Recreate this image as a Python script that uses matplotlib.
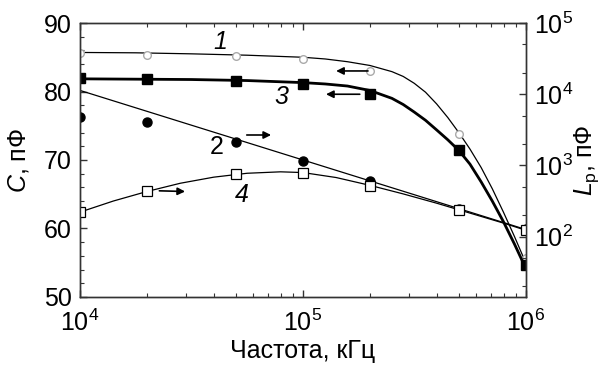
import numpy as np
import matplotlib
matplotlib.use('Agg')
import matplotlib.pyplot as plt
from matplotlib.ticker import MultipleLocator, LogLocator, NullFormatter

plt.rcParams['font.family'] = ['Liberation Sans', 'DejaVu Sans']
plt.rcParams['mathtext.fontset'] = 'custom'
plt.rcParams['mathtext.rm'] = 'Liberation Sans'
plt.rcParams['mathtext.it'] = 'Liberation Sans:italic'
plt.rcParams['font.size'] = 18

# measured points
freq = [1e4, 2e4, 5e4, 1e5, 2e5, 5e5, 1e6]
c1_pts = [85.6, 85.35, 85.2, 84.7, 83.0, 73.8, 55.7]      # curve 1, C (left)
c3_pts = [81.9, 81.8, 81.6, 81.1, 79.7, 71.5, 54.7]       # curve 3, C (left)
lp2_pts = [4850, 4130, 2160, 1150, 614, 244, 128]        # curve 2, Lp (right)
lp4_pts = [221, 431, 762, 780, 518, 233, 122]            # curve 4, Lp (right)

# fitted curves
fit_f = [1e4, 1.78e4, 3.16e4, 5.62e4, 1e5, 1.26e5, 1.585e5, 2.0e5, 2.51e5, 2.82e5,
         3.16e5, 3.55e5, 3.98e5, 4.47e5, 5.01e5, 5.62e5, 6.31e5, 7.08e5, 7.94e5, 8.91e5, 1e6]
fit1_c = [85.7, 85.65, 85.5, 85.3, 85.0, 84.75, 84.35, 83.8, 82.9, 82.2,
          81.2, 79.9, 78.2, 76.2, 74.0, 71.6, 68.9, 65.8, 62.4, 58.8, 55.0]
fit3_c = [81.85, 81.8, 81.75, 81.6, 81.3, 81.1, 80.8, 80.15, 79.0, 78.1,
          77.0, 75.8, 74.4, 72.95, 71.4, 69.4, 66.8, 64.0, 61.0, 57.7, 54.2]
fit2_f = [1e4, 1e6]
fit2_l = [11300, 126]
fit4_f = [1e4, 1.41e4, 2e4, 2.82e4, 3.98e4, 5.62e4, 7.94e4, 1e5, 1.41e5, 2e5,
          2.82e5, 3.98e5, 5.62e5, 7.94e5, 1e6]
fit4_l = [221, 316, 431, 562, 684, 776, 813, 794, 676, 525,
          398, 295, 214, 155, 123]

fig = plt.figure(figsize=(6.04, 3.73), dpi=100)
ax = fig.add_axes([0.1325, 0.2038, 0.7379, 0.7345])
ax2 = ax.twinx()

# left axis curves
ax.plot(fit_f, fit1_c, color='k', lw=0.9)
ax.plot(freq, c1_pts, 'o', ls='none', mfc='white', mec='#aaaaaa', ms=5.5, mew=1)
ax.plot(fit_f, fit3_c, color='k', lw=2)
ax.plot(freq, c3_pts, 's', ls='none', color='k', ms=7.5)

# right axis curves
ax2.plot(fit2_f, fit2_l, color='k', lw=0.9)
ax2.plot(freq, lp2_pts, 'o', ls='none', color='k', ms=6.5)
ax2.plot(fit4_f, fit4_l, color='k', lw=0.9)
ax2.plot(freq, lp4_pts, 's', ls='none', mfc='white', mec='k', ms=6.5, mew=0.9)

ax.set_xscale('log')
ax.set_xlim(1e4, 1e6)
ax.set_ylim(50, 90)
ax.yaxis.set_major_locator(MultipleLocator(10))
ax.yaxis.set_minor_locator(MultipleLocator(2))
ax.xaxis.set_minor_locator(LogLocator(base=10, subs=np.arange(2, 10)))
ax.xaxis.set_minor_formatter(NullFormatter())

ax2.set_yscale('log')
ax2.set_ylim(14.2, 1e5)
ax2.yaxis.set_major_locator(LogLocator(base=10, numticks=10))
ax2.yaxis.set_minor_locator(LogLocator(base=10, subs=(2, 5), numticks=10))
ax2.yaxis.set_minor_formatter(NullFormatter())

for a in (ax, ax2):
    for s in a.spines.values():
        s.set_color('#333333')
        s.set_linewidth(1)
ax.tick_params(which='both', direction='in', top=True, right=False, colors='#333333', labelcolor='k')
ax.tick_params(which='major', length=5, width=1, pad=6)
ax.tick_params(axis='x', which='major', pad=9)
ax.tick_params(which='minor', length=3, width=0.8)
ax2.tick_params(which='both', direction='in', colors='#333333', labelcolor='k')
ax2.tick_params(which='major', length=5, width=1, pad=6)
ax2.tick_params(which='minor', length=3, width=0.8)

ax.set_xlabel('Частота, кГц', labelpad=2)
ax.set_ylabel('$C$, пФ')
ax.yaxis.set_label_coords(-0.11, 0.5)
ax2.set_ylabel('$L_\\mathrm{p}$, пФ')
ax2.yaxis.set_label_coords(1.105, 0.5)

# curve numbers and arrows
ax.text(4.25e4, 87.2, '1', style='italic', ha='center', va='center')
ax.text(8.0e4, 79.2, '3', style='italic', ha='center', va='center')
ax.text(4.1e4, 71.9, '2', ha='center', va='center')
ax.text(5.3e4, 64.9, '4', style='italic', ha='center', va='center')

arrow = dict(arrowstyle='-|>', color='k', lw=1.2, mutation_scale=11, shrinkA=0, shrinkB=0)
ax.annotate('', xy=(1.41e5, 83.0), xytext=(1.96e5, 83.0), arrowprops=arrow)
ax.annotate('', xy=(1.27e5, 79.6), xytext=(1.80e5, 79.6), arrowprops=arrow)
ax.annotate('', xy=(7.2e4, 73.65), xytext=(5.6e4, 73.65), arrowprops=arrow)
ax.annotate('', xy=(2.96e4, 65.4), xytext=(2.27e4, 65.5), arrowprops=arrow)

fig.savefig('out.png', dpi=100)
